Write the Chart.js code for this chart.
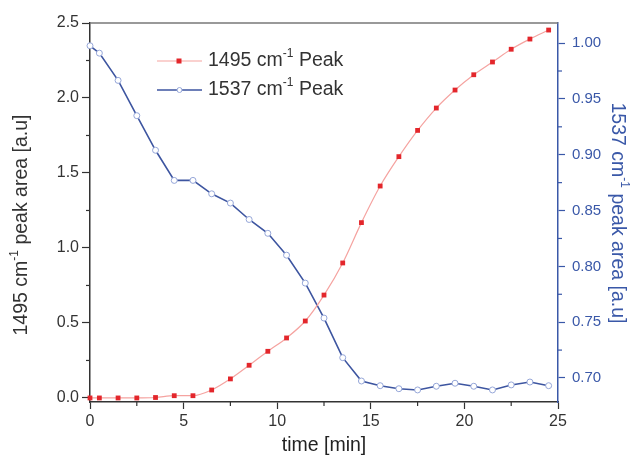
<!DOCTYPE html>
<html>
<head>
<meta charset="utf-8">
<script src="https://cdn.jsdelivr.net/npm/chart.js@4"></script>
<style>
  html, body { margin: 0; padding: 0; background: #fff; }
  #wrap { width: 634px; height: 455px; position: relative; }
</style>
</head>
<body>
<div id="wrap"><canvas id="peakChart"></canvas></div>
<script>
// time axis (min) shared by both series
const times = [0, 0.5, 1.5, 2.5, 3.5, 4.5, 5.5, 6.5, 7.5, 8.5, 9.5, 10.5, 11.5, 12.5,
               13.5, 14.5, 15.5, 16.5, 17.5, 18.5, 19.5, 20.5, 21.5, 22.5, 23.5, 24.5];
// 1495 cm-1 peak area (left axis)
const area1495 = [0.0, 0.0, 0.0, 0.0, 0.003, 0.015, 0.015, 0.053, 0.127, 0.218, 0.311, 0.40, 0.513,
                  0.686, 0.90, 1.169, 1.413, 1.609, 1.784, 1.933, 2.053, 2.155, 2.24, 2.325, 2.393, 2.453];
// 1537 cm-1 peak area (right axis)
const area1537 = [0.9976, 0.991, 0.9666, 0.935, 0.904, 0.877, 0.877, 0.865, 0.8567, 0.842, 0.8296,
                  0.810, 0.785, 0.7537, 0.7182, 0.6973, 0.6931, 0.6904, 0.6893, 0.6926, 0.6953,
                  0.6926, 0.6893, 0.6938, 0.6964, 0.6931];

const xTicks = [0, 5, 10, 15, 20, 25];
const leftTicks = [0, 0.5, 1.0, 1.5, 2.0, 2.5];
const rightTicks = [0.70, 0.75, 0.80, 0.85, 0.90, 0.95, 1.00];

const seriesLabels = ['1495 cm⁻¹ Peak', '1537 cm⁻¹ Peak'];
const xTitle = 'time [min]';
const leftTitle = '1495 cm⁻¹ peak area [a.u]';
const rightTitle = '1537 cm⁻¹ peak area [a.u]';

const FONT = '"Liberation Sans", Arial, sans-serif';
const DARK = '#333333';
const BLUE = '#3a58a8';

function toPoints(ys) {
    return times.map((t, i) => ({ x: t, y: ys[i] }));
}

// draws text with the "⁻¹" part raised as a superscript
function richText(ctx, text, x, y, size, align) {
    const parts = text.split('⁻¹');
    const runs = [];
    parts.forEach((p, i) => {
        runs.push({ t: p, sup: false });
        if (i < parts.length - 1) runs.push({ t: '-1', sup: true });
    });
    let w = 0;
    runs.forEach(r => {
        ctx.font = (r.sup ? Math.round(size * 0.6) : size) + 'px ' + FONT;
        r.w = ctx.measureText(r.t).width;
        w += r.w;
    });
    let cx = align === 'center' ? x - w / 2 : x;
    ctx.textBaseline = 'middle';
    ctx.textAlign = 'left';
    runs.forEach(r => {
        ctx.font = (r.sup ? Math.round(size * 0.6) : size) + 'px ' + FONT;
        ctx.fillText(r.t, cx, r.sup ? y - size * 0.38 : y);
        cx += r.w;
    });
}

const extrasPlugin = {
    id: 'extras',
    afterDraw(chart) {
        const { ctx, chartArea: a, scales } = chart;
        ctx.save();

        // top frame line
        ctx.strokeStyle = '#777';
        ctx.lineWidth = 1.5;
        ctx.beginPath();
        ctx.moveTo(a.left, a.top);
        ctx.lineTo(a.right, a.top);
        ctx.stroke();

        // minor ticks
        ctx.lineWidth = 1.2;
        ctx.strokeStyle = DARK;
        for (let i = 0; i < xTicks.length - 1; i++) {
            const px = scales.x.getPixelForValue((xTicks[i] + xTicks[i + 1]) / 2);
            ctx.beginPath(); ctx.moveTo(px, a.bottom); ctx.lineTo(px, a.bottom + 4); ctx.stroke();
        }
        for (let i = 0; i < leftTicks.length - 1; i++) {
            const py = scales.y.getPixelForValue((leftTicks[i] + leftTicks[i + 1]) / 2);
            ctx.beginPath(); ctx.moveTo(a.left, py); ctx.lineTo(a.left - 4, py); ctx.stroke();
        }
        ctx.strokeStyle = BLUE;
        for (let i = 0; i < rightTicks.length - 1; i++) {
            const py = scales.y1.getPixelForValue((rightTicks[i] + rightTicks[i + 1]) / 2);
            ctx.beginPath(); ctx.moveTo(a.right, py); ctx.lineTo(a.right + 4, py); ctx.stroke();
        }

        // axis titles
        ctx.fillStyle = DARK;
        ctx.save();
        ctx.translate(22, 225);
        ctx.rotate(-Math.PI / 2);
        richText(ctx, leftTitle, 0, 0, 19.5, 'center');
        ctx.restore();

        ctx.fillStyle = BLUE;
        ctx.save();
        ctx.translate(617, 213);
        ctx.rotate(Math.PI / 2);
        richText(ctx, rightTitle, 0, 0, 19.5, 'center');
        ctx.restore();

        // legend
        const rows = [61, 90];
        chart.data.datasets.forEach((ds, i) => {
            const y = rows[i];
            ctx.strokeStyle = ds.borderColor;
            ctx.lineWidth = ds.borderWidth;
            ctx.beginPath(); ctx.moveTo(157, y); ctx.lineTo(202, y); ctx.stroke();
            if (ds.pointStyle === 'rect') {
                ctx.fillStyle = ds.pointBackgroundColor;
                ctx.fillRect(176.5, y - 2.5, 5, 5);
            } else {
                ctx.fillStyle = '#fff';
                ctx.strokeStyle = ds.pointBorderColor;
                ctx.lineWidth = 1;
                ctx.beginPath(); ctx.arc(179.5, y, 2.5, 0, Math.PI * 2); ctx.fill(); ctx.stroke();
            }
            ctx.fillStyle = DARK;
            richText(ctx, ds.label, 208, y, 19.5, 'left');
        });

        ctx.restore();
    }
};

new Chart(document.getElementById('peakChart'), {
    type: 'line',
    data: {
        datasets: [
            {
                label: seriesLabels[0],
                data: toPoints(area1495),
                yAxisID: 'y',
                borderColor: '#f5a3a0',
                borderWidth: 1.2,
                cubicInterpolationMode: 'monotone',
                pointStyle: 'rect',
                pointRadius: 3.4,
                pointBackgroundColor: '#e3262b',
                pointBorderColor: '#e3262b',
                pointBorderWidth: 0,
                clip: false
            },
            {
                label: seriesLabels[1],
                data: toPoints(area1537),
                yAxisID: 'y1',
                borderColor: '#3d55a0',
                borderWidth: 1.6,
                tension: 0,
                pointStyle: 'circle',
                pointRadius: 3,
                pointBackgroundColor: '#ffffff',
                pointBorderColor: '#95a6d8',
                pointBorderWidth: 1,
                clip: false
            }
        ]
    },
    options: {
        responsive: true,
        maintainAspectRatio: false,
        animation: false,
        layout: { padding: { top: 23, left: 0, right: 0, bottom: 0 } },
        plugins: {
            legend: { display: false },
            tooltip: { enabled: false }
        },
        scales: {
            x: {
                type: 'linear',
                position: 'bottom',
                min: 0,
                max: 25,
                afterBuildTicks: s => { s.ticks = xTicks.map(v => ({ value: v })); },
                afterFit: s => { s.height = 53; },
                grid: { drawOnChartArea: false, tickLength: 7, tickColor: DARK, tickWidth: 1.2 },
                border: { color: DARK, width: 1.5 },
                ticks: { color: DARK, font: { family: FONT, size: 16 }, padding: 3, maxRotation: 0 },
                title: {
                    display: true,
                    text: xTitle,
                    color: '#222',
                    font: { family: FONT, size: 19.5, lineHeight: 1.0 },
                    padding: { top: 0, bottom: 0 }
                }
            },
            y: {
                type: 'linear',
                position: 'left',
                min: -0.027,
                max: 2.5,
                afterBuildTicks: s => { s.ticks = leftTicks.map(v => ({ value: v })); },
                afterFit: s => { s.width = 90; },
                grid: { drawOnChartArea: false, tickLength: 8, tickColor: DARK, tickWidth: 1.2 },
                border: { color: DARK, width: 1.5 },
                ticks: { color: DARK, font: { family: FONT, size: 16 }, padding: 3, callback: v => v.toFixed(1) }
            },
            y1: {
                type: 'linear',
                position: 'right',
                min: 0.6785,
                max: 1.018,
                afterBuildTicks: s => { s.ticks = rightTicks.map(v => ({ value: v })); },
                afterFit: s => { s.width = 76; },
                grid: { drawOnChartArea: false, tickLength: 7, tickColor: BLUE, tickWidth: 1.2 },
                border: { color: BLUE, width: 1.5 },
                ticks: { color: BLUE, font: { family: FONT, size: 15 }, padding: 7, callback: v => v.toFixed(2) }
            }
        }
    },
    plugins: [extrasPlugin]
});
</script>
</body>
</html>
